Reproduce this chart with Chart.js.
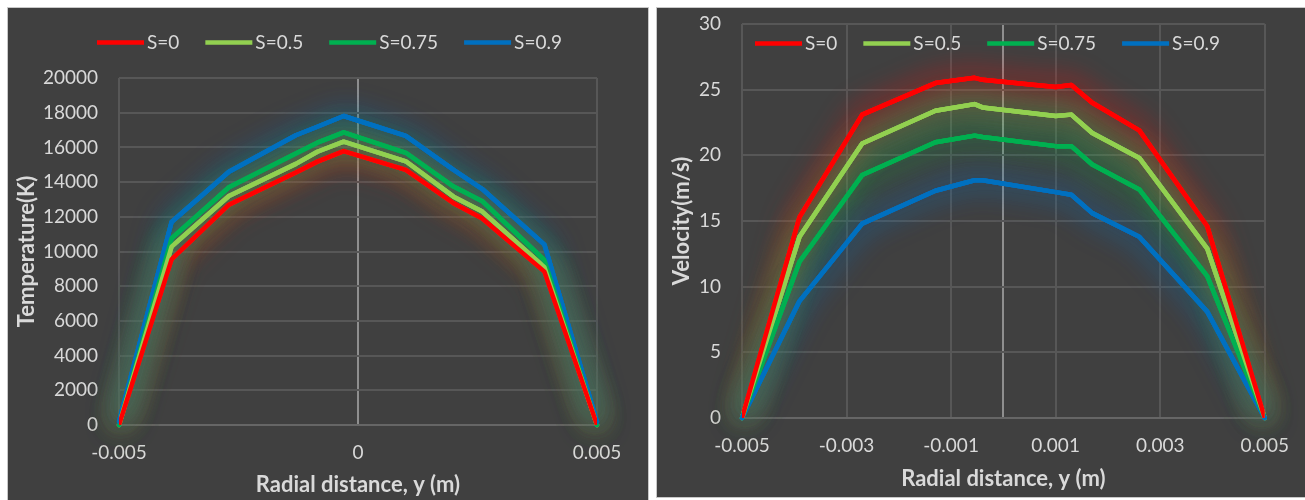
<!DOCTYPE html>
<html>
<head>
<meta charset="utf-8">
<script src="https://cdn.jsdelivr.net/npm/chart.js@4.4.1/dist/chart.umd.min.js"></script>
<style>
  html, body { margin: 0; padding: 0; background: #fff; width: 1305px; height: 500px; overflow: hidden; }
  .panel { position: absolute; background: #404040; border: 1px solid #c8c8c8; box-sizing: border-box; }
  #leftPanel { left: 7px; top: 7px; width: 642px; height: 500px; }
  #rightPanel { left: 656px; top: 7px; width: 652px; height: 491px; }
  canvas { position: absolute; left: 0; top: 0; }
</style>
</head>
<body>
<div class="panel" id="leftPanel"><canvas id="tempChart" width="640" height="492"></canvas></div>
<div class="panel" id="rightPanel"><canvas id="velChart" width="648" height="489"></canvas></div>
<script>
// Series labels / colours
const seriesLabels = ['S=0', 'S=0.5', 'S=0.75', 'S=0.9'];
const seriesColors = ['#ff0000', '#92d050', '#00b050', '#0070c0'];

// Temperature chart (left)
const tempX = [-0.005, -0.0039, -0.0027, -0.0013, -0.00085, -0.0003, 0.001, 0.002, 0.0026, 0.0039, 0.005];
const tempS0 = [0, 9550, 12700, 14550, 15180, 15790, 14700, 12780, 11900, 8840, 0];
const tempS05 = [0, 10280, 13200, 15050, 15750, 16330, 15200, 13160, 12300, 9100, 0];
const tempS075 = [0, 10760, 13700, 15650, 16270, 16870, 15690, 13740, 12900, 9500, 0];
const tempS09 = [200, 11700, 14600, 16700, 17190, 17810, 16660, 14700, 13600, 10400, 200];
const tempTicks = { min: 0, max: 20000, step: 2000 };

// Velocity chart (right)
const velX = [-0.005, -0.0039, -0.0027, -0.0013, -0.00055, -0.0004, 0.001, 0.0013, 0.0017, 0.0026, 0.0039, 0.005];
const velS0 = [0, 15.3, 23.1, 25.5, 25.9, 25.75, 25.2, 25.35, 24.0, 21.9, 14.6, 0];
const velS05 = [0, 13.8, 20.9, 23.4, 23.9, 23.65, 23.0, 23.1, 21.7, 19.8, 12.9, 0];
const velS075 = [0, 11.9, 18.5, 21.0, 21.5, 21.4, 20.7, 20.7, 19.3, 17.4, 10.8, 0];
const velS09 = [0, 8.9, 14.8, 17.3, 18.1, 18.1, 17.2, 17.0, 15.6, 13.8, 8.1, 0];
const velTicks = { min: 0, max: 30, step: 5 };

const TEXT = '#d9d9d9';
const GRID = '#575757';
const AXIS0 = '#8f8f8f';
const FONT = 'Lato';

const toPoints = (xs, ys) => xs.map((x, i) => ({ x, y: ys[i] }));
const isZero = (v) => Math.abs(v) < 1e-9;
const fmtX = (v) => isZero(v) ? '0' : String(parseFloat(v.toFixed(4)));

function makeDatasets(xs, seriesList) {
  return seriesList.map((ys, i) => ({
    label: seriesLabels[i],
    data: toPoints(xs, ys),
    borderColor: seriesColors[i],
    backgroundColor: seriesColors[i],
    borderWidth: 4.5,
    pointRadius: 0,
    tension: 0,
    borderJoinStyle: 'round',
    borderCapStyle: 'round',
  }));
}

// soft glow under all lines (Excel "glow" effect)
const glow = {
  id: 'glow',
  beforeDatasetsDraw(chart) {
    const ctx = chart.ctx;
    chart.getSortedVisibleDatasetMetas().forEach(meta => {
      const color = meta.controller.getDataset().borderColor;
      for (let k = 0; k < 2; k++) {
        ctx.save();
        ctx.shadowColor = color + 'cc';
        ctx.shadowBlur = 30;
        meta.dataset.draw(ctx, chart.chartArea);
        ctx.restore();
      }
    });
  }
};

// Excel-like horizontal legend with line samples
const lineLegend = {
  id: 'lineLegend',
  afterDraw(chart, args, opts) {
    const ctx = chart.ctx;
    ctx.save();
    ctx.font = `19px ${FONT}`;
    ctx.textBaseline = 'middle';
    let x = opts.x;
    chart.data.datasets.forEach(ds => {
      ctx.strokeStyle = ds.borderColor;
      ctx.lineWidth = 4.5;
      ctx.beginPath();
      ctx.moveTo(x, opts.y);
      ctx.lineTo(x + 47, opts.y);
      ctx.stroke();
      x += 50;
      ctx.fillStyle = TEXT;
      ctx.fillText(ds.label, x, opts.y);
      x += ctx.measureText(ds.label).width + 26;
    });
    ctx.restore();
  }
};

function makeChart(canvasId, cfg) {
  return new Chart(document.getElementById(canvasId), {
    type: 'line',
    data: { datasets: makeDatasets(cfg.xs, cfg.series) },
    plugins: [glow, lineLegend],
    options: {
      responsive: false,
      animation: false,
      events: [],
      layout: { padding: cfg.padding },
      plugins: {
        legend: { display: false },
        tooltip: { enabled: false },
        lineLegend: cfg.legend,
      },
      scales: {
        x: {
          type: 'linear',
          min: -0.005,
          max: 0.005,
          afterFit: (s) => { s.height = cfg.xHeight; },
          afterBuildTicks: (s) => {
            if (cfg.zeroLine && !s.ticks.some(t => isZero(t.value))) {
              s.ticks.push({ value: 0 });
              s.ticks.sort((a, b) => a.value - b.value);
            }
          },
          border: { display: false },
          grid: {
            drawTicks: false,
            lineWidth: 2,
            color: (c) => (c.tick && isZero(c.tick.value)) ? AXIS0 : GRID,
          },
          ticks: {
            stepSize: cfg.xStep,
            padding: 16,
            color: TEXT,
            font: { family: FONT, size: 19 },
            maxRotation: 0,
            autoSkip: false,
            callback: (v) => (cfg.zeroLine && isZero(v)) ? '' : fmtX(v),
          },
          title: {
            display: true,
            text: 'Radial distance, y (m)',
            color: TEXT,
            font: { family: FONT, size: 22, weight: 'bold' },
            padding: { top: 0, bottom: cfg.xTitlePad },
          },
        },
        y: {
          min: cfg.yTicks.min,
          max: cfg.yTicks.max,
          afterFit: (s) => {
            s.width = cfg.yWidth;
            s.paddingTop = 0;
            s.paddingBottom = 0;
          },
          border: { display: false },
          grid: {
            drawTicks: false,
            lineWidth: 2,
            color: (c) => (c.tick && isZero(c.tick.value)) ? '#666666' : GRID,
          },
          ticks: {
            stepSize: cfg.yTicks.step,
            padding: 21,
            color: TEXT,
            font: { family: FONT, size: 19 },
            callback: (v) => String(v),
          },
          title: {
            display: true,
            text: cfg.yTitle,
            color: TEXT,
            font: { family: FONT, size: 22, weight: 'bold' },
            padding: { top: cfg.yTitlePad, bottom: 0 },
          },
        },
      },
    },
  });
}

makeChart('tempChart', {
  xs: tempX,
  series: [tempS0, tempS05, tempS075, tempS09],
  yTicks: tempTicks,
  yTitle: 'Temperature(K)',
  xStep: 0.005,
  zeroLine: false,
  padding: { top: 70, right: 51, left: 0, bottom: 0 },
  yWidth: 111,
  xHeight: 75,
  xTitlePad: 2,
  yTitlePad: 6,
  legend: { x: 89, y: 34.5 },
});

makeChart('velChart', {
  xs: velX,
  series: [velS0, velS05, velS075, velS09],
  yTicks: velTicks,
  yTitle: 'Velocity(m/s)',
  xStep: 0.002,
  zeroLine: true,
  padding: { top: 16, right: 38, left: 0, bottom: 0 },
  yWidth: 85,
  xHeight: 79,
  xTitlePad: 5,
  yTitlePad: 12,
  legend: { x: 98, y: 35.5 },
});
</script>
</body>
</html>
